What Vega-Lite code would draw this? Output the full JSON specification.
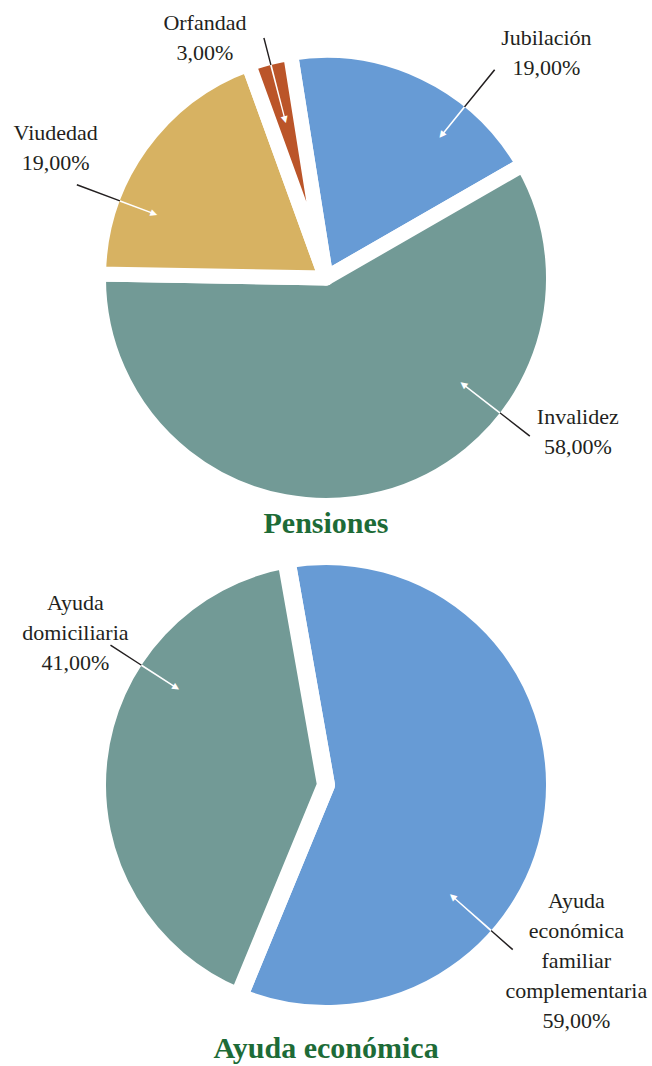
{
  "$schema": "https://vega.github.io/schema/vega-lite/v6.json",
  "padding": 0,
  "spacing": 0,
  "bounds": "flush",
  "background": "white",
  "config": {"view": {"stroke": null}},
  "vconcat": [
    {
      "width": 652,
      "height": 556,
      "title": {"text": "Pensiones", "orient": "bottom", "offset": -23, "baseline": "alphabetic", "anchor": "middle", "font": "Liberation Serif", "fontSize": 30, "fontWeight": "bold", "color": "#1D6B37"},
      "data": {"values": [
        {"tipo": "Jubilación", "valor": 19, "orden": 1, "etiqueta": "Jubilación\n19,00%"},
        {"tipo": "Invalidez", "valor": 58, "orden": 2, "etiqueta": "Invalidez\n58,00%"},
        {"tipo": "Viudedad", "valor": 19, "orden": 3, "etiqueta": "Viudedad\n19,00%"},
        {"tipo": "Orfandad", "valor": 3, "orden": 4, "etiqueta": "Orfandad\n3,00%"}
      ]},
      "transform": [{"stack": "valor", "groupby": [], "sort": [{"field": "orden", "order": "ascending"}], "as": ["t0", "t1"]}],
      "encoding": {
        "theta": {"field": "t0", "type": "quantitative", "scale": {"domain": [0, 99], "range": [-0.15708, 6.126106]}}
      },
      "layer": [
        {"mark": {"type": "arc", "outerRadius": 227.5, "stroke": "white", "strokeWidth": 15, "strokeJoin": "round"},
         "encoding": {"theta2": {"field": "t1"}, "color": {"field": "tipo", "type": "nominal", "legend": null, "scale": {"domain": ["Jubilación", "Invalidez", "Viudedad", "Orfandad"], "range": ["#679BD5", "#729A96", "#D7B262", "#BB5529"]}}}},
        {"transform": [{"filter": "datum.tipo === 'Jubilación'"}],
         "mark": {"type": "text", "radius": 315, "thetaOffset": 0.93201, "dy": -15, "font": "Liberation Serif", "fontSize": 22, "lineHeight": 30, "lineBreak": "\n", "align": "center", "baseline": "middle", "fill": "#231F20"},
         "encoding": {"text": {"field": "etiqueta"}}},
        {"transform": [{"filter": "datum.tipo === 'Invalidez'"}],
         "mark": {"type": "text", "radius": 295, "thetaOffset": 1.07006, "dy": -15, "font": "Liberation Serif", "fontSize": 22, "lineHeight": 30, "lineBreak": "\n", "align": "center", "baseline": "middle", "fill": "#231F20"},
         "encoding": {"text": {"field": "etiqueta"}}},
        {"transform": [{"filter": "datum.tipo === 'Viudedad'"}],
         "mark": {"type": "text", "radius": 300, "thetaOffset": 0.4311, "dy": -15, "font": "Liberation Serif", "fontSize": 22, "lineHeight": 30, "lineBreak": "\n", "align": "center", "baseline": "middle", "fill": "#231F20"},
         "encoding": {"text": {"field": "etiqueta"}}},
        {"transform": [{"filter": "datum.tipo === 'Orfandad'"}],
         "mark": {"type": "text", "radius": 269, "thetaOffset": -0.11938, "dy": -15, "font": "Liberation Serif", "fontSize": 22, "lineHeight": 30, "lineBreak": "\n", "align": "center", "baseline": "middle", "fill": "#231F20"},
         "encoding": {"text": {"field": "etiqueta"}}},
        {"transform": [{"filter": "datum.tipo === 'Jubilación'"}],
         "mark": {"type": "arc", "innerRadius": 220, "outerRadius": 268, "thetaOffset": 0.83475, "theta2Offset": -0.36509, "fill": "#231F20"},
         "encoding": {"theta2": {"field": "t1"}}},
        {"transform": [{"filter": "datum.tipo === 'Jubilación'"}],
         "mark": {"type": "arc", "innerRadius": 186, "outerRadius": 220, "thetaOffset": 0.83385, "theta2Offset": -0.36419, "fill": "white"},
         "encoding": {"theta2": {"field": "t1"}}},
        {"transform": [{"filter": "datum.tipo === 'Jubilación'"}],
         "mark": {"type": "text", "text": "▲", "radius": 183, "thetaOffset": 0.83776, "angle": 219, "font": "DejaVu Sans", "fontSize": 9, "align": "center", "baseline": "middle", "fill": "white"}},
        {"transform": [{"filter": "datum.tipo === 'Invalidez'"}],
         "mark": {"type": "arc", "innerRadius": 220, "outerRadius": 258, "thetaOffset": 1.17877, "theta2Offset": -2.49631, "fill": "#231F20"},
         "encoding": {"theta2": {"field": "t1"}}},
        {"transform": [{"filter": "datum.tipo === 'Invalidez'"}],
         "mark": {"type": "arc", "innerRadius": 176, "outerRadius": 220, "thetaOffset": 1.17786, "theta2Offset": -2.49541, "fill": "white"},
         "encoding": {"theta2": {"field": "t1"}}},
        {"transform": [{"filter": "datum.tipo === 'Invalidez'"}],
         "mark": {"type": "text", "text": "▲", "radius": 173, "thetaOffset": 1.18176, "angle": 307.8, "font": "DejaVu Sans", "fontSize": 9, "align": "center", "baseline": "middle", "fill": "white"}},
        {"transform": [{"filter": "datum.tipo === 'Viudedad'"}],
         "mark": {"type": "arc", "innerRadius": 220, "outerRadius": 266, "thetaOffset": 0.33734, "theta2Offset": -0.86251, "fill": "#231F20"},
         "encoding": {"theta2": {"field": "t1"}}},
        {"transform": [{"filter": "datum.tipo === 'Viudedad'"}],
         "mark": {"type": "arc", "innerRadius": 186, "outerRadius": 220, "thetaOffset": 0.33644, "theta2Offset": -0.86161, "fill": "white"},
         "encoding": {"theta2": {"field": "t1"}}},
        {"transform": [{"filter": "datum.tipo === 'Viudedad'"}],
         "mark": {"type": "text", "text": "▲", "radius": 183, "thetaOffset": 0.34034, "angle": 110.5, "font": "DejaVu Sans", "fontSize": 9, "align": "center", "baseline": "middle", "fill": "white"}},
        {"transform": [{"filter": "datum.tipo === 'Orfandad'"}],
         "mark": {"type": "arc", "innerRadius": 220, "outerRadius": 248, "thetaOffset": 0.09142, "theta2Offset": -0.09299, "fill": "#231F20"},
         "encoding": {"theta2": {"field": "t1"}}},
        {"transform": [{"filter": "datum.tipo === 'Orfandad'"}],
         "mark": {"type": "arc", "innerRadius": 166, "outerRadius": 220, "thetaOffset": 0.09052, "theta2Offset": -0.09209, "fill": "white"},
         "encoding": {"theta2": {"field": "t1"}}},
        {"transform": [{"filter": "datum.tipo === 'Orfandad'"}],
         "mark": {"type": "text", "text": "▲", "radius": 163, "thetaOffset": 0.09442, "angle": 165.5, "font": "DejaVu Sans", "fontSize": 9, "align": "center", "baseline": "middle", "fill": "white"}}
      ]
    },
    {
      "width": 652,
      "height": 458,
      "title": {"text": "Ayuda económica", "orient": "bottom", "offset": 26, "baseline": "alphabetic", "anchor": "middle", "font": "Liberation Serif", "fontSize": 30, "fontWeight": "bold", "color": "#1D6B37"},
      "data": {"values": [
        {"tipo": "Ayuda económica familiar complementaria", "valor": 59, "orden": 1, "etiqueta": "Ayuda\neconómica\nfamiliar\ncomplementaria\n59,00%"},
        {"tipo": "Ayuda domiciliaria", "valor": 41, "orden": 2, "etiqueta": "Ayuda\ndomiciliaria\n41,00%"}
      ]},
      "transform": [{"stack": "valor", "groupby": [], "sort": [{"field": "orden", "order": "ascending"}], "as": ["t0", "t1"]}],
      "encoding": {
        "theta": {"field": "t0", "type": "quantitative", "scale": {"domain": [0, 100], "range": [-0.174533, 6.108652]}}
      },
      "layer": [
        {"mark": {"type": "arc", "outerRadius": 229, "stroke": "white", "strokeWidth": 18, "strokeJoin": "round"},
         "encoding": {"theta2": {"field": "t1"}, "color": {"field": "tipo", "type": "nominal", "legend": null, "scale": {"domain": ["Ayuda económica familiar complementaria", "Ayuda domiciliaria"], "range": ["#679BD5", "#729A96"]}}}},
        {"transform": [{"filter": "datum.orden === 1"}],
         "mark": {"type": "text", "radius": 306, "thetaOffset": 2.35794, "dy": -60, "font": "Liberation Serif", "fontSize": 22, "lineHeight": 30, "lineBreak": "\n", "align": "center", "baseline": "middle", "fill": "#231F20"},
         "encoding": {"text": {"field": "etiqueta"}}},
        {"transform": [{"filter": "datum.orden === 2"}],
         "mark": {"type": "text", "radius": 293, "thetaOffset": 1.72438, "dy": -30, "font": "Liberation Serif", "fontSize": 22, "lineHeight": 30, "lineBreak": "\n", "align": "center", "baseline": "middle", "fill": "#231F20"},
         "encoding": {"text": {"field": "etiqueta"}}},
        {"transform": [{"filter": "datum.orden === 1"}],
         "mark": {"type": "arc", "innerRadius": 220, "outerRadius": 249, "thetaOffset": 2.4649, "theta2Offset": -1.23618, "fill": "#231F20"},
         "encoding": {"theta2": {"field": "t1"}}},
        {"transform": [{"filter": "datum.orden === 1"}],
         "mark": {"type": "arc", "innerRadius": 171, "outerRadius": 220, "thetaOffset": 2.464, "theta2Offset": -1.23528, "fill": "white"},
         "encoding": {"theta2": {"field": "t1"}}},
        {"transform": [{"filter": "datum.orden === 1"}],
         "mark": {"type": "text", "text": "▲", "radius": 168, "thetaOffset": 2.4679, "angle": 311.4, "font": "DejaVu Sans", "fontSize": 9, "align": "center", "baseline": "middle", "fill": "white"}},
        {"transform": [{"filter": "datum.orden === 2"}],
         "mark": {"type": "arc", "innerRadius": 220, "outerRadius": 257, "thetaOffset": 1.7528, "theta2Offset": -0.8173, "fill": "#231F20"},
         "encoding": {"theta2": {"field": "t1"}}},
        {"transform": [{"filter": "datum.orden === 2"}],
         "mark": {"type": "arc", "innerRadius": 181, "outerRadius": 220, "thetaOffset": 1.7519, "theta2Offset": -0.8164, "fill": "white"},
         "encoding": {"theta2": {"field": "t1"}}},
        {"transform": [{"filter": "datum.orden === 2"}],
         "mark": {"type": "text", "text": "▲", "radius": 178, "thetaOffset": 1.7558, "angle": 123, "font": "DejaVu Sans", "fontSize": 9, "align": "center", "baseline": "middle", "fill": "white"}}
      ]
    }
  ]
}
